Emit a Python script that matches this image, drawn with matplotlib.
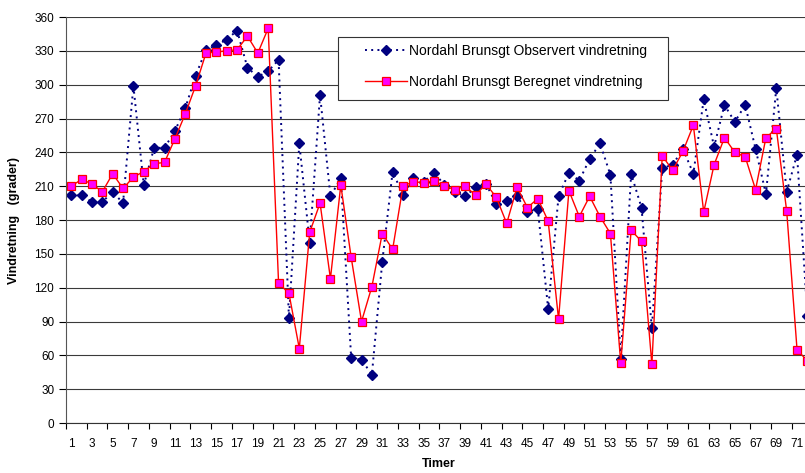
import matplotlib
matplotlib.use('Agg')
import matplotlib.pyplot as plt
from matplotlib.patches import Rectangle
import numpy as np

plt.rcParams['font.family'] = ['Liberation Sans', 'DejaVu Sans']

# hours 1..72 (the last one is cut off by the right edge)
timer = list(range(1, 73))

observert = [202, 202, 196, 196, 205, 195, 299, 211, 244, 244,
             259, 279, 308, 331, 335, 340, 348, 315, 307, 312,
             322, 93, 248, 160, 291, 201, 217, 58, 56, 43,
             143, 223, 202, 217, 214, 222, 211, 205, 201, 209,
             212, 194, 197, 201, 187, 190, 101, 201, 222, 215,
             234, 248, 220, 57, 221, 191, 84, 226, 229, 243,
             221, 287, 245, 282, 267, 282, 243, 203, 297, 205,
             238, 95]

beregnet = [210, 216, 212, 205, 221, 208, 218, 223, 230, 231,
            252, 274, 299, 328, 329, 330, 331, 343, 328, 350,
            124, 115, 66, 169, 195, 128, 211, 147, 90, 121,
            168, 154, 210, 214, 213, 215, 210, 207, 210, 202,
            212, 200, 177, 209, 191, 199, 179, 92, 206, 183,
            201, 183, 168, 53, 171, 161, 52, 237, 224, 241,
            264, 187, 229, 253, 240, 236, 207, 253, 261, 188,
            65, 55]

yticks = list(range(0, 361, 30))
xlabels = list(range(1, 72, 2))

W, H = 805, 473
fig = plt.figure(figsize=(W / 100, H / 100), dpi=100)
# plot area runs past the right edge, like the original screenshot
ax = fig.add_axes([66 / W, 50 / H, 746.6 / W, 406 / H])

ax.plot(timer, observert, color='#000080', linestyle=(0, (1, 2.2)),
        linewidth=1.4, marker='D', markersize=5, markerfacecolor='#000080',
        markeredgecolor='#000080', label='Nordahl Brunsgt Observert vindretning')
ax.plot(timer, beregnet, color='red', linewidth=1.0, marker='s',
        markersize=6, markerfacecolor='#FF00FF', markeredgecolor='red',
        markeredgewidth=0.9, label='Nordahl Brunsgt Beregnet vindretning')

ax.set_xlim(0.5, 72.5)
ax.set_ylim(0, 360)
ax.set_yticks(yticks)
ax.set_xticks(xlabels)
ax.set_xticks(np.arange(0.5, 72.5, 2), minor=True)
ax.tick_params(axis='x', which='major', length=0, labelsize=8.5, pad=11)
ax.tick_params(axis='x', which='minor', length=4, direction='out', width=0.8)
ax.tick_params(axis='y', length=5, direction='out', labelsize=8.5, width=0.8)

ax.grid(axis='y', color='#3a3a3a', linewidth=0.8)
ax.set_axisbelow(True)
for side in ['top', 'right']:
    ax.spines[side].set_visible(False)
ax.spines['left'].set_color('#555555')
ax.spines['bottom'].set_color('#333333')

ax.set_ylabel('Vindretning   (grader)', fontsize=9, fontweight='bold', labelpad=10)
ax.set_xlabel('Timer', fontsize=9, fontweight='bold')
ax.xaxis.set_label_coords((439 - 66) / 746.6, -0.085)

# legend box drawn by hand so it gets the wide Excel padding
box = Rectangle((338 / W, 1 - 100 / H), 330 / W, 63 / H, transform=fig.transFigure,
                facecolor='white', edgecolor='#333333', linewidth=0.8,
                zorder=4, clip_on=False)
ax.add_patch(box)
leg = ax.legend(loc='upper left', bbox_to_anchor=(365 / W, 1 - 44 / H),
                bbox_transform=fig.transFigure, fontsize=10, frameon=False,
                borderpad=0, borderaxespad=0, labelspacing=1.2,
                handlelength=3.0, handletextpad=0.15)
leg.set_zorder(5)

fig.savefig('out.png', dpi=100)
